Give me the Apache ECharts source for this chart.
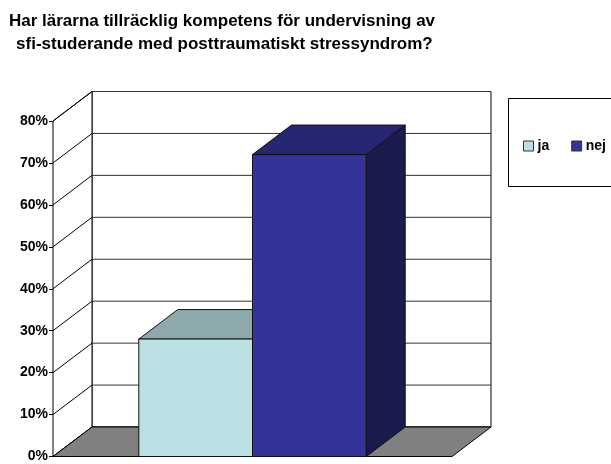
<!DOCTYPE html>
<html><head><meta charset="utf-8">
<script src="https://cdn.jsdelivr.net/npm/echarts@6/dist/echarts.min.js"></script>
<style>html,body{margin:0;padding:0;background:#fff}#c{width:611px;height:464px}</style>
</head><body><div id="c"></div>
<script>
// ---- data ----
const categories = [''];
const seriesNames = ['ja', 'nej'];
const jaValues = [28];
const nejValues = [72];
const yTickValues = [0, 10, 20, 30, 40, 50, 60, 70, 80];
const titleLines = ['Har lärarna tillräcklig kompetens för undervisning av', ' sfi-studerande med posttraumatiskt stressyndrom?'];

// ---- style ----
const DX = 39, DY = -29.5;          // 3D depth offset
const BAR_FRAC = 0.285;             // bar width as fraction of category band
const FONT = '"Liberation Sans", Arial, sans-serif';
const colors = {
  ja:  {front: '#BBE0E3', top: '#8EA9AB', side: '#5F7173'},
  nej: {front: '#333399', top: '#262673', side: '#1B1B4D'}
};

const chart = echarts.init(document.getElementById('c'), null, {renderer: 'canvas'});

function wallsRender(params, api) {
  const cs = params.coordSys;
  const L = cs.x, R = cs.x + cs.width;
  const T = api.coord([0, yTickValues[yTickValues.length - 1]])[1];
  const B = api.coord([0, 0])[1];
  const stroke = {stroke: '#000', lineWidth: 1};
  const ch = [];
  ch.push({type: 'polygon', shape: {points: [[L + DX, T + DY], [R + DX, T + DY], [R + DX, B + DY], [L + DX, B + DY]]},
    style: Object.assign({fill: '#fff'}, stroke)});
  ch.push({type: 'polygon', shape: {points: [[L, T], [L + DX, T + DY], [L + DX, B + DY], [L, B]]},
    style: Object.assign({fill: '#fff'}, stroke)});
  yTickValues.forEach(function (v) {
    const y = api.coord([0, v])[1];
    ch.push({type: 'line', shape: {x1: L + DX, y1: y + DY, x2: R + DX, y2: y + DY}, style: {stroke: '#333', lineWidth: 1}});
    ch.push({type: 'line', shape: {x1: L, y1: y, x2: L + DX, y2: y + DY}, style: {stroke: '#000', lineWidth: 1}});
  });
  ch.push({type: 'polygon', shape: {points: [[L, B], [R, B], [R + DX, B + DY], [L + DX, B + DY]]},
    style: Object.assign({fill: '#808080'}, stroke)});
  return {type: 'group', children: ch};
}

function barRender(which) {
  return function (params, api) {
    const idx = api.value(0);
    const val = api.value(1);
    const c = api.coord([idx, val]);
    const base = api.coord([idx, 0]);
    const band = api.size([1, 0])[0];
    const w = band * BAR_FRAC;
    const x0 = which === 0 ? c[0] - w : c[0];
    const x1 = which === 0 ? c[0] : c[0] + w;
    const yT = c[1], yB = base[1];
    const col = colors[seriesNames[which]];
    const st = {stroke: '#111', lineWidth: 1};
    return {type: 'group', children: [
      {type: 'polygon', shape: {points: [[x1, yT], [x1 + DX, yT + DY], [x1 + DX, yB + DY], [x1, yB]]}, style: Object.assign({fill: col.side}, st)},
      {type: 'polygon', shape: {points: [[x0, yT], [x1, yT], [x1 + DX, yT + DY], [x0 + DX, yT + DY]]}, style: Object.assign({fill: col.top}, st)},
      {type: 'rect', shape: {x: x0, y: yT, width: x1 - x0, height: yB - yT}, style: Object.assign({fill: col.front}, st)}
    ]};
  };
}

const option = {
  animation: false,
  backgroundColor: '#fff',
  graphic: [
    {type: 'text', x: 222, y: 10, z: 10,
     style: {text: titleLines.join('\n'), align: 'center', verticalAlign: 'top',
             font: 'bold 17px ' + FONT, fill: '#000', lineHeight: 23}},
    {type: 'rect', shape: {x: 508.5, y: 98.5, width: 130, height: 88}, z: 0,
     style: {fill: '#fff', stroke: '#000', lineWidth: 1}}
  ],
  legend: {
    data: seriesNames,
    left: 518, top: 134,
    icon: 'rect', itemWidth: 10, itemHeight: 10, itemGap: 22,
    itemStyle: {borderColor: '#333', borderWidth: 1},
    textStyle: {fontFamily: FONT, fontWeight: 'bold', fontSize: 14, color: '#000', padding: [0, 0, 0, -1]},
    z: 20
  },
  grid: {left: 53, right: 159, top: 121, bottom: 7.5, containLabel: false},
  xAxis: {type: 'category', data: categories, axisLine: {show: false}, axisTick: {show: false}, axisLabel: {show: false}, splitLine: {show: false}},
  yAxis: {type: 'value', min: 0, max: 80, interval: 10,
    axisLine: {show: true, lineStyle: {color: '#000', width: 1}},
    axisTick: {show: true, length: 4, lineStyle: {color: '#000'}},
    axisLabel: {formatter: '{value}%', fontFamily: FONT, fontWeight: 'bold', fontSize: 14, color: '#000', margin: 5},
    splitLine: {show: false}},
  series: [
    {type: 'custom', name: 'walls', renderItem: wallsRender, data: [[0, 0]], clip: false, z: 1, silent: true},
    {type: 'custom', name: 'ja', renderItem: barRender(0), data: categories.map((c, i) => [i, jaValues[i]]),
     itemStyle: {color: colors.ja.front}, clip: false, z: 2},
    {type: 'custom', name: 'nej', renderItem: barRender(1), data: categories.map((c, i) => [i, nejValues[i]]),
     itemStyle: {color: colors.nej.front}, clip: false, z: 3}
  ]
};
chart.setOption(option);
</script>
</body></html>
